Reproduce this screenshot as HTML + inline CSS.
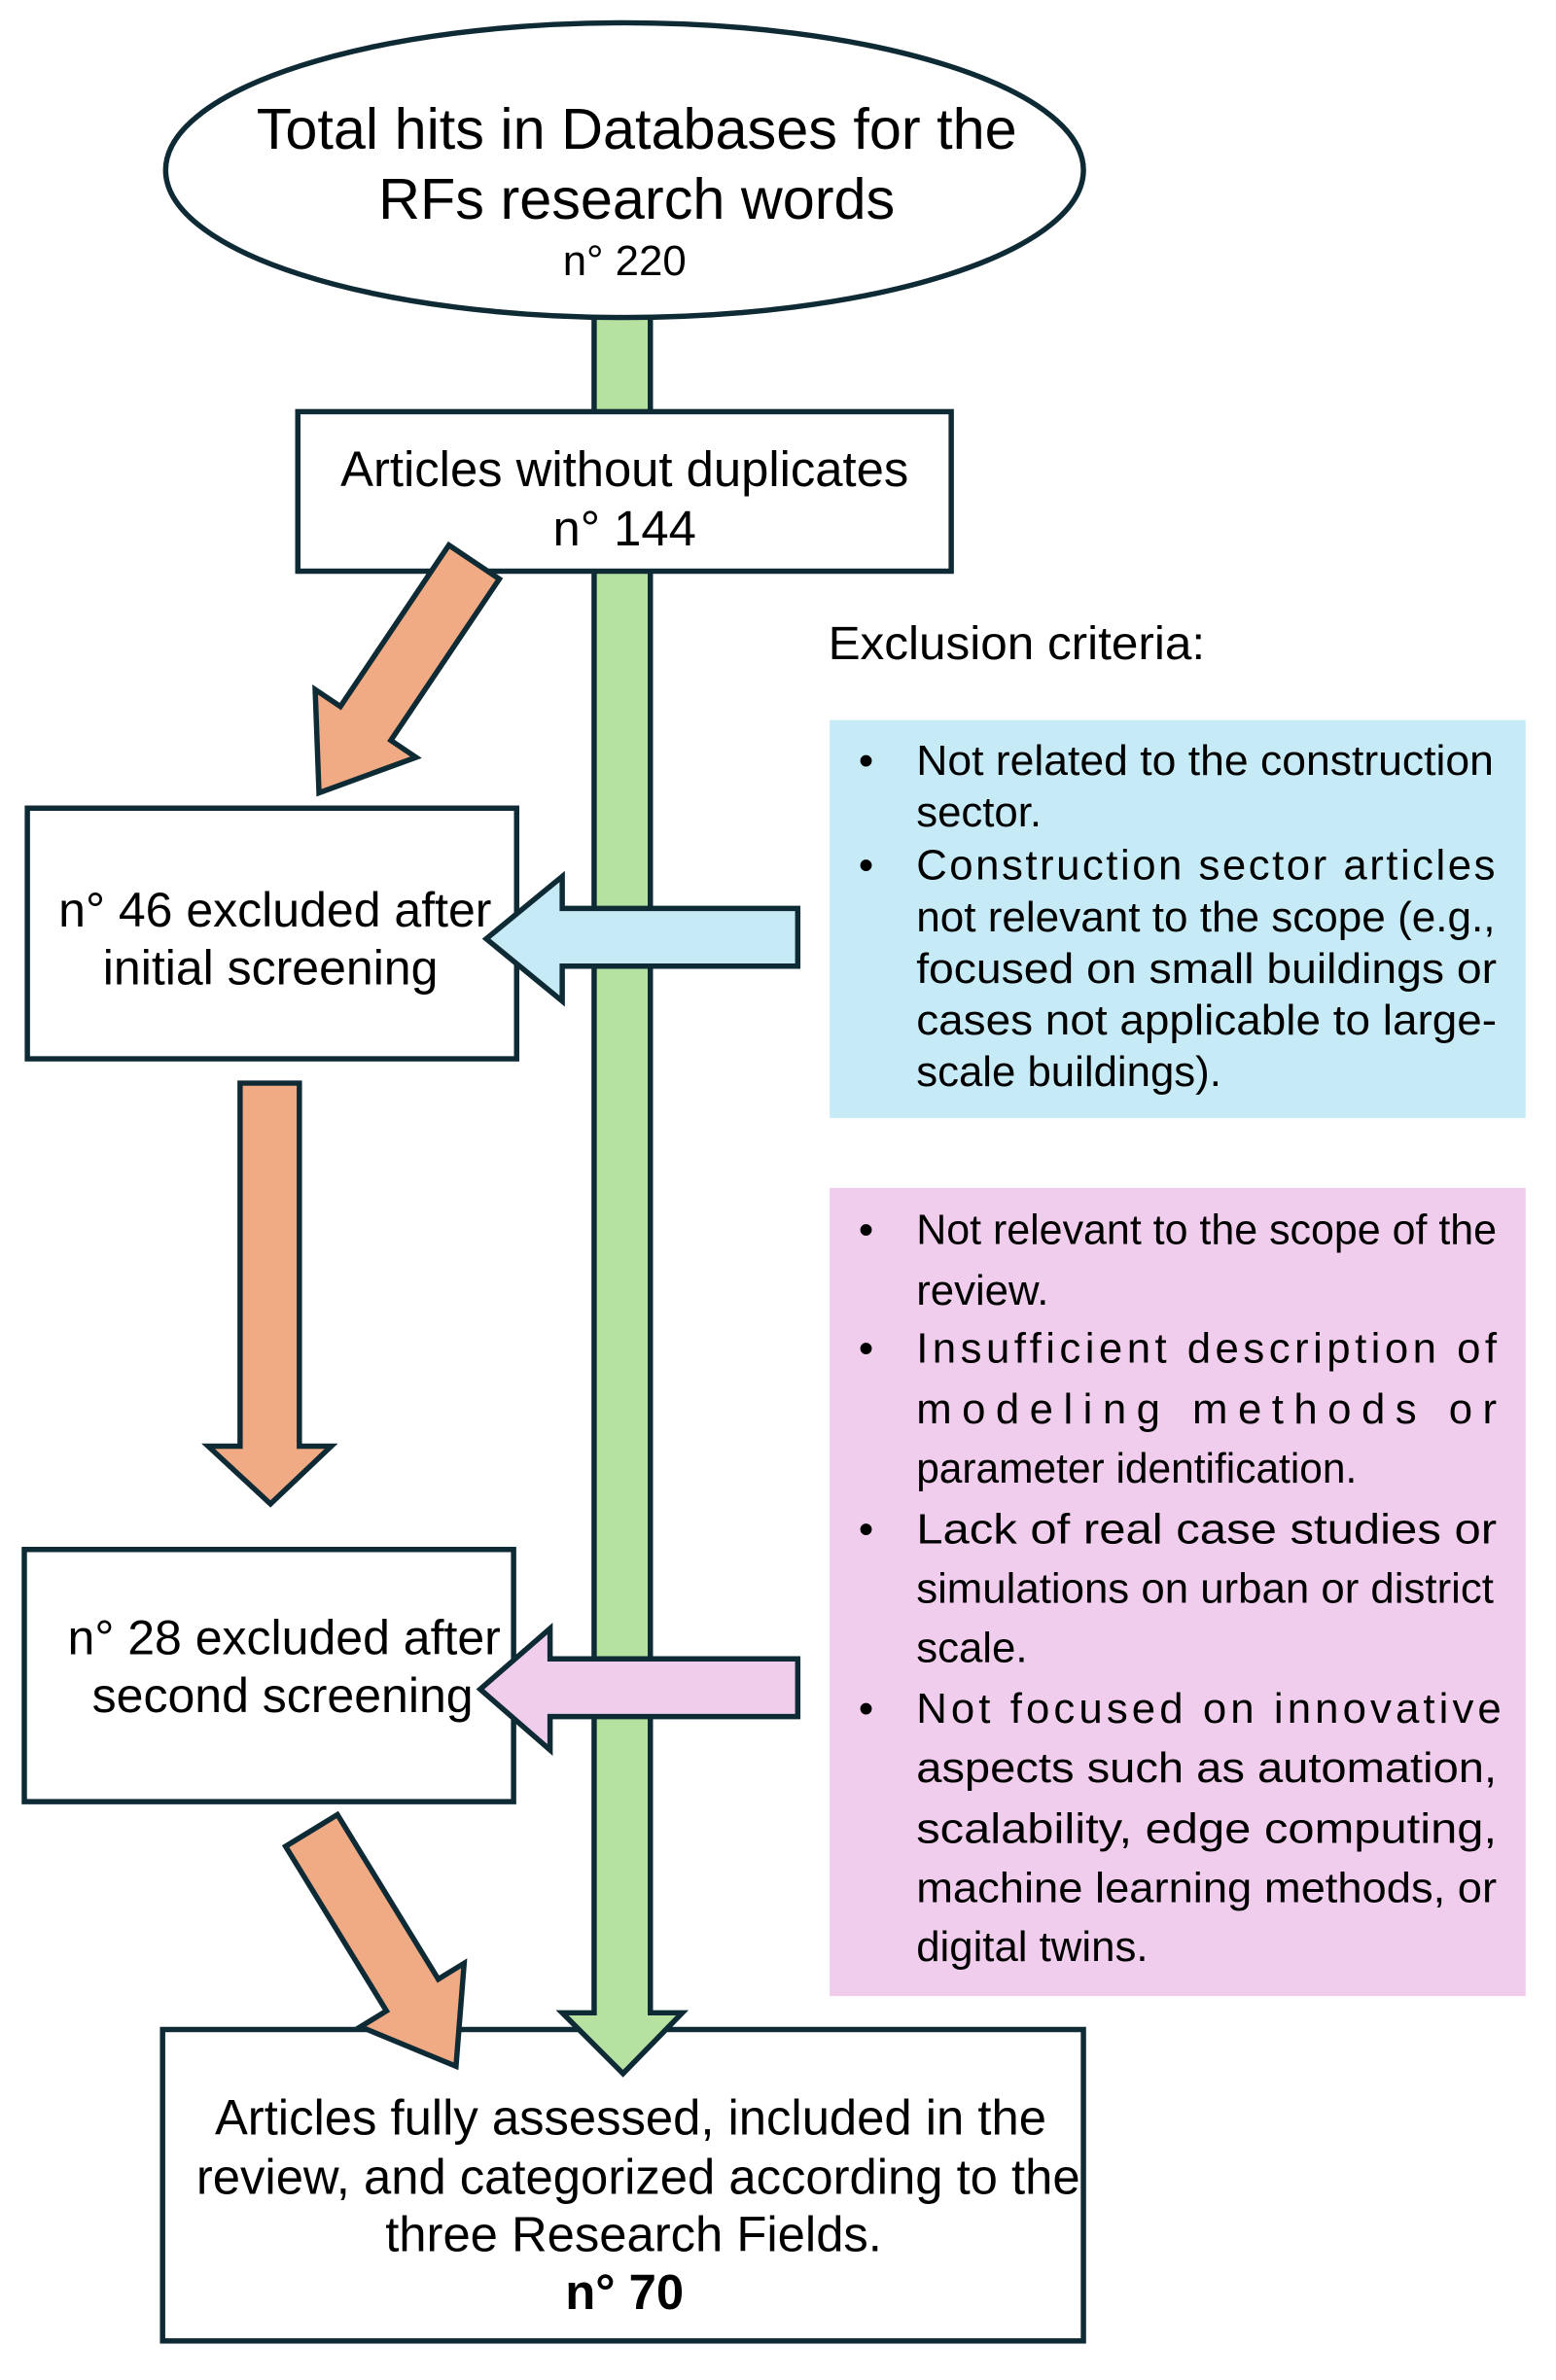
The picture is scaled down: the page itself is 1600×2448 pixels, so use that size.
<!DOCTYPE html>
<html><head><meta charset="utf-8"><style>html,body{margin:0;padding:0;background:#fff}svg{display:block}</style></head>
<body>
<svg width="1600" height="2448" viewBox="0 0 1024 1566.72" xmlns="http://www.w3.org/2000/svg" font-family="Liberation Sans, sans-serif">
<rect width="1024" height="1567" fill="#fff"/>
<g stroke="#0e2a35" stroke-width="3.5">
<rect x="107" y="1336" width="606" height="205" fill="#fff"/>
<!-- green arrow -->
<polygon points="391,203 428,203 428,1325 449,1325 410,1365 370,1325 391,1325" fill="#b5e2a0"/>
<ellipse cx="411" cy="112" rx="302" ry="97" fill="#fff"/>
<rect x="196" y="271" width="430" height="105" fill="#fff"/>
<rect x="18" y="532" width="322" height="165" fill="#fff"/>
<rect x="16" y="1020" width="322" height="166" fill="#fff"/>
<!-- orange arrows -->
<g transform="translate(312,370) rotate(33.9)"><polygon points="-20,0 20,0 20,128 40,128 0,183 -40,128 -20,128" fill="#f0aa84"/></g>
<polygon points="158,713 197,713 197,952 218,952 178,990 137,952 158,952" fill="#f0aa84"/>
<g transform="translate(205,1205) rotate(-31.5)"><polygon points="-20,0 20,0 20,127 40,127 0,182 -40,127 -20,127" fill="#f0aa84"/></g>
<!-- blue / pink arrows -->
<polygon points="525,598 525,636 370,636 370,659 320,618 370,577 370,598" fill="#c6ebf7"/>
<polygon points="525,1092 525,1130 362,1130 362,1152 316,1112 362,1072 362,1092" fill="#efcdeb"/>
</g>
<rect x="546" y="474" width="458" height="262" fill="#c6ebf7"/>
<rect x="546" y="782" width="458" height="532" fill="#f0cdec"/>
<g fill="#000" text-anchor="middle">
<text x="419" y="98" font-size="38">Total hits in Databases for the</text>
<text x="419" y="144" font-size="38">RFs research words</text>
<text x="411" y="181" font-size="28">n° 220</text>
<text x="411" y="320" font-size="32.5">Articles without duplicates</text>
<text x="411" y="359" font-size="32.5">n° 144</text>
<text x="181" y="610" font-size="32">n° 46 excluded after</text>
<text x="178" y="648" font-size="32">initial screening</text>
<text x="187" y="1089" font-size="32">n° 28 excluded after</text>
<text x="186" y="1127" font-size="32">second screening</text>
<text x="415" y="1405" font-size="32.5">Articles fully assessed, included in the</text>
<text x="420" y="1444" font-size="32.5">review, and categorized according to the</text>
<text x="417" y="1482" font-size="32.5">three Research Fields.</text>
<text x="411" y="1520" font-size="32.5" font-weight="bold">n° 70</text>
</g>
<g fill="#000" font-size="28">
<text x="545" y="434" font-size="31" textLength="248" lengthAdjust="spacingAndGlyphs">Exclusion criteria:</text>
<text x="565" y="510">•</text><text x="565" y="579">•</text>
<text x="603" y="510" textLength="380" lengthAdjust="spacingAndGlyphs">Not related to the construction</text>
<text x="603" y="544">sector.</text>
<text x="603" y="579" textLength="381" lengthAdjust="spacing">Construction sector articles</text>
<text x="603" y="613" textLength="381" lengthAdjust="spacingAndGlyphs">not relevant to the scope (e.g.,</text>
<text x="603" y="647" textLength="382" lengthAdjust="spacingAndGlyphs">focused on small buildings or</text>
<text x="603" y="681" textLength="382" lengthAdjust="spacingAndGlyphs">cases not applicable to large-</text>
<text x="603" y="715">scale buildings).</text>
<text x="565" y="819">•</text><text x="565" y="897">•</text><text x="565" y="1016">•</text><text x="565" y="1134">•</text>
<text x="603" y="819" textLength="382" lengthAdjust="spacingAndGlyphs">Not relevant to the scope of the</text>
<text x="603" y="859">review.</text>
<text x="603" y="897" textLength="382" lengthAdjust="spacing">Insufficient description of</text>
<text x="603" y="937" textLength="382" lengthAdjust="spacing">modeling methods or</text>
<text x="603" y="976" textLength="290" lengthAdjust="spacingAndGlyphs">parameter identification.</text>
<text x="603" y="1016" textLength="382" lengthAdjust="spacingAndGlyphs">Lack of real case studies or</text>
<text x="603" y="1055" textLength="380" lengthAdjust="spacingAndGlyphs">simulations on urban or district</text>
<text x="603" y="1094">scale.</text>
<text x="603" y="1134" textLength="385" lengthAdjust="spacing">Not focused on innovative</text>
<text x="603" y="1173" textLength="382" lengthAdjust="spacingAndGlyphs">aspects such as automation,</text>
<text x="603" y="1213" textLength="382" lengthAdjust="spacingAndGlyphs">scalability, edge computing,</text>
<text x="603" y="1252" textLength="382" lengthAdjust="spacingAndGlyphs">machine learning methods, or</text>
<text x="603" y="1291">digital twins.</text>
</g>
</svg>
</body></html>
